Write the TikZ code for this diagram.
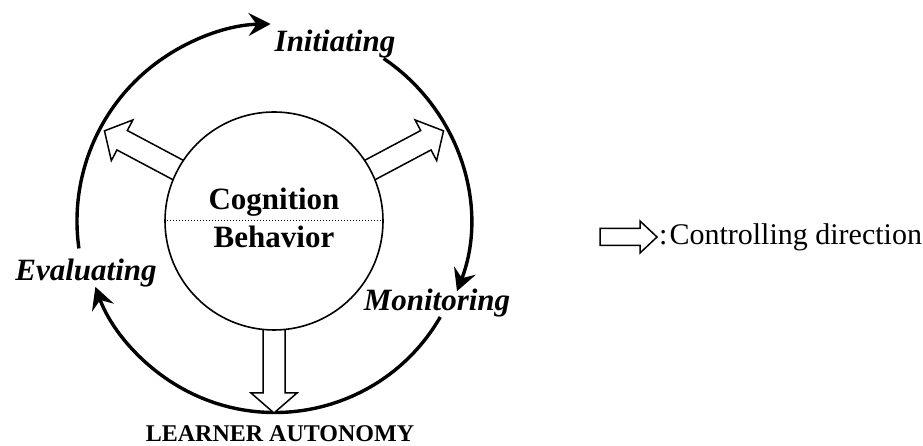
\documentclass[tikz,border=0pt]{standalone}
\usepackage{fontspec}
\setmainfont{Liberation Serif}
\usetikzlibrary{arrows.meta,calc}
\begin{document}
\begin{tikzpicture}[x=1pt,y=1pt,
  cycle/.style={line width=3.4pt,-{Stealth[length=22pt,width=23pt,inset=8pt]}},
  blockarr/.style={line width=1.5pt,draw=black,fill=white,line join=miter},
  phase/.style={font=\fontsize{31}{36}\selectfont\bfseries\itshape,inner sep=0pt,anchor=base},
  core/.style={font=\fontsize{31}{36}\selectfont\bfseries,inner sep=0pt,anchor=base},
  legendtext/.style={font=\fontsize{30}{36}\selectfont,inner sep=0pt,anchor=base west}]
\useasboundingbox (0,0) rectangle (923,446);
\coordinate (c) at (274,225);

% regulation cycle around the core
\draw[cycle] ($(c)+(188:197)$) arc[start angle=188,end angle=91,radius=197];
\draw[cycle] ($(c)+(56:196)$) arc[start angle=56,end angle=-21,radius=196];
\draw[cycle] ($(c)+(-30:192)$) arc[start angle=-30,end angle=-160,radius=191];

% controlling directions out of the core
\foreach \a in {152,28,270}{
  \draw[blockarr,shift={(c)},rotate=\a]
    (95,-11) -- (172,-11) -- (172,-23) -- (192,0) -- (172,23) -- (172,11) -- (95,11) -- cycle;
}

% core: cognition over behavior
\node[circle,draw,line width=1.6pt,fill=white,minimum size=218pt,inner sep=0pt] (core) at (c) {};
\draw[dotted,line width=1pt] (core.west) -- (core.east);
\node[core] (cog) at (274,236) {Cognition};
\node[core] (beh) at (274,198) {Behavior};

% phase labels
\node[phase] (init) at (335,394) {Initiating};
\node[phase] (mon) at (437,135) {Monitoring};
\node[phase] (eval) at (86,165) {Evaluating};
\node[font=\fontsize{24}{28}\selectfont\bfseries,inner sep=0pt,anchor=base] (la) at (280,4) {LEARNER AUTONOMY};

% legend
\coordinate (lg) at (600,209);
\draw[blockarr,shift={(lg)}]
  (0,-8.5) -- (40,-8.5) -- (40,-16) -- (57,0) -- (40,16) -- (40,8.5) -- (0,8.5) -- cycle;
\node[legendtext] (lgt) at (659,201) {:\kern2pt Controlling direction};
\end{tikzpicture}
\end{document}
